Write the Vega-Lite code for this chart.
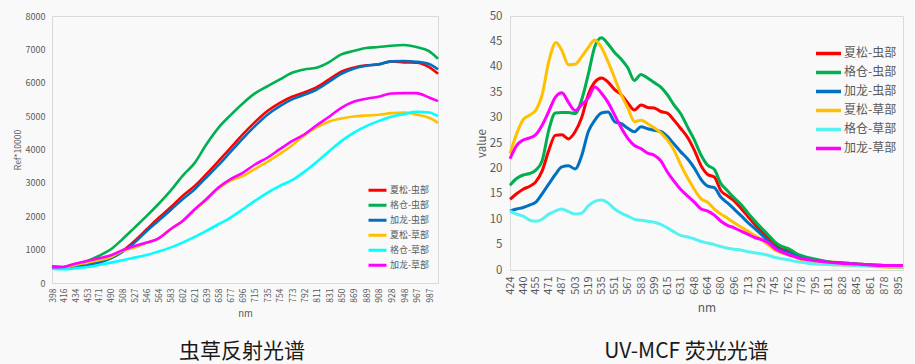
{
  "$schema": "https://vega.github.io/schema/vega-lite/v6.json",
  "background": "#f9f9f9",
  "padding": {"left": 12, "top": 9, "right": 5, "bottom": 2},
  "config": {
    "font": "Noto Sans CJK SC",
    "view": {"stroke": "#d9d9d9", "strokeWidth": 1},
    "axis": {"grid": false, "domain": false, "ticks": false, "labelColor": "#595959", "titleColor": "#595959", "titleFontWeight": "normal"},
    "legend": {"labelColor": "#595959"},
    "title": {"fontWeight": "normal", "color": "#1a1a1a"},
    "concat": {"spacing": 31}
  },
  "datasets": {
    "refl": [
      {"series":"夏松-虫部","nm":398,"value":490},{"series":"夏松-虫部","nm":416,"value":470},{"series":"夏松-虫部","nm":434,"value":510},{"series":"夏松-虫部","nm":453,"value":560},{"series":"夏松-虫部","nm":471,"value":640},{"series":"夏松-虫部","nm":490,"value":780},{"series":"夏松-虫部","nm":508,"value":960},{"series":"夏松-虫部","nm":527,"value":1260},{"series":"夏松-虫部","nm":546,"value":1610},{"series":"夏松-虫部","nm":564,"value":1940},{"series":"夏松-虫部","nm":583,"value":2260},{"series":"夏松-虫部","nm":602,"value":2610},{"series":"夏松-虫部","nm":621,"value":2910},{"series":"夏松-虫部","nm":639,"value":3260},{"series":"夏松-虫部","nm":658,"value":3650},{"series":"夏松-虫部","nm":677,"value":4050},{"series":"夏松-虫部","nm":696,"value":4450},{"series":"夏松-虫部","nm":715,"value":4820},{"series":"夏松-虫部","nm":735,"value":5160},{"series":"夏松-虫部","nm":754,"value":5400},{"series":"夏松-虫部","nm":773,"value":5580},{"series":"夏松-虫部","nm":792,"value":5710},{"series":"夏松-虫部","nm":811,"value":5860},{"series":"夏松-虫部","nm":831,"value":6100},{"series":"夏松-虫部","nm":850,"value":6330},{"series":"夏松-虫部","nm":869,"value":6450},{"series":"夏松-虫部","nm":889,"value":6520},{"series":"夏松-虫部","nm":908,"value":6550},{"series":"夏松-虫部","nm":928,"value":6640},{"series":"夏松-虫部","nm":948,"value":6610},{"series":"夏松-虫部","nm":967,"value":6600},{"series":"夏松-虫部","nm":987,"value":6470},{"series":"夏松-虫部","nm":1001,"value":6270},
      {"series":"格仓-虫部","nm":398,"value":500},{"series":"格仓-虫部","nm":416,"value":480},{"series":"格仓-虫部","nm":434,"value":560},{"series":"格仓-虫部","nm":453,"value":660},{"series":"格仓-虫部","nm":471,"value":810},{"series":"格仓-虫部","nm":490,"value":1010},{"series":"格仓-虫部","nm":508,"value":1310},{"series":"格仓-虫部","nm":527,"value":1660},{"series":"格仓-虫部","nm":546,"value":2010},{"series":"格仓-虫部","nm":564,"value":2360},{"series":"格仓-虫部","nm":583,"value":2760},{"series":"格仓-虫部","nm":602,"value":3210},{"series":"格仓-虫部","nm":621,"value":3600},{"series":"格仓-虫部","nm":639,"value":4150},{"series":"格仓-虫部","nm":658,"value":4650},{"series":"格仓-虫部","nm":677,"value":5030},{"series":"格仓-虫部","nm":696,"value":5380},{"series":"格仓-虫部","nm":715,"value":5680},{"series":"格仓-虫部","nm":735,"value":5900},{"series":"格仓-虫部","nm":754,"value":6100},{"series":"格仓-虫部","nm":773,"value":6300},{"series":"格仓-虫部","nm":792,"value":6400},{"series":"格仓-虫部","nm":811,"value":6450},{"series":"格仓-虫部","nm":831,"value":6620},{"series":"格仓-虫部","nm":850,"value":6850},{"series":"格仓-虫部","nm":869,"value":6950},{"series":"格仓-虫部","nm":889,"value":7040},{"series":"格仓-虫部","nm":908,"value":7070},{"series":"格仓-虫部","nm":928,"value":7110},{"series":"格仓-虫部","nm":948,"value":7130},{"series":"格仓-虫部","nm":967,"value":7070},{"series":"格仓-虫部","nm":987,"value":6950},{"series":"格仓-虫部","nm":1001,"value":6720},
      {"series":"加龙-虫部","nm":398,"value":480},{"series":"加龙-虫部","nm":416,"value":460},{"series":"加龙-虫部","nm":434,"value":490},{"series":"加龙-虫部","nm":453,"value":540},{"series":"加龙-虫部","nm":471,"value":610},{"series":"加龙-虫部","nm":490,"value":740},{"series":"加龙-虫部","nm":508,"value":930},{"series":"加龙-虫部","nm":527,"value":1210},{"series":"加龙-虫部","nm":546,"value":1560},{"series":"加龙-虫部","nm":564,"value":1860},{"series":"加龙-虫部","nm":583,"value":2180},{"series":"加龙-虫部","nm":602,"value":2510},{"series":"加龙-虫部","nm":621,"value":2810},{"series":"加龙-虫部","nm":639,"value":3160},{"series":"加龙-虫部","nm":658,"value":3530},{"series":"加龙-虫部","nm":677,"value":3930},{"series":"加龙-虫部","nm":696,"value":4330},{"series":"加龙-虫部","nm":715,"value":4700},{"series":"加龙-虫部","nm":735,"value":5050},{"series":"加龙-虫部","nm":754,"value":5300},{"series":"加龙-虫部","nm":773,"value":5500},{"series":"加龙-虫部","nm":792,"value":5640},{"series":"加龙-虫部","nm":811,"value":5790},{"series":"加龙-虫部","nm":831,"value":6030},{"series":"加龙-虫部","nm":850,"value":6270},{"series":"加龙-虫部","nm":869,"value":6420},{"series":"加龙-虫部","nm":889,"value":6510},{"series":"加龙-虫部","nm":908,"value":6550},{"series":"加龙-虫部","nm":928,"value":6640},{"series":"加龙-虫部","nm":948,"value":6650},{"series":"加龙-虫部","nm":967,"value":6630},{"series":"加龙-虫部","nm":987,"value":6560},{"series":"加龙-虫部","nm":1001,"value":6400},
      {"series":"夏松-草部","nm":398,"value":460},{"series":"夏松-草部","nm":416,"value":460},{"series":"夏松-草部","nm":434,"value":540},{"series":"夏松-草部","nm":453,"value":610},{"series":"夏松-草部","nm":471,"value":680},{"series":"夏松-草部","nm":490,"value":780},{"series":"夏松-草部","nm":508,"value":960},{"series":"夏松-草部","nm":527,"value":1060},{"series":"夏松-草部","nm":546,"value":1210},{"series":"夏松-草部","nm":564,"value":1330},{"series":"夏松-草部","nm":583,"value":1600},{"series":"夏松-草部","nm":602,"value":1850},{"series":"夏松-草部","nm":621,"value":2190},{"series":"夏松-草部","nm":639,"value":2490},{"series":"夏松-草部","nm":658,"value":2830},{"series":"夏松-草部","nm":677,"value":3070},{"series":"夏松-草部","nm":696,"value":3200},{"series":"夏松-草部","nm":715,"value":3420},{"series":"夏松-草部","nm":735,"value":3640},{"series":"夏松-草部","nm":754,"value":3870},{"series":"夏松-草部","nm":773,"value":4120},{"series":"夏松-草部","nm":792,"value":4420},{"series":"夏松-草部","nm":811,"value":4660},{"series":"夏松-草部","nm":831,"value":4840},{"series":"夏松-草部","nm":850,"value":4930},{"series":"夏松-草部","nm":869,"value":4990},{"series":"夏松-草部","nm":889,"value":5020},{"series":"夏松-草部","nm":908,"value":5040},{"series":"夏松-草部","nm":928,"value":5090},{"series":"夏松-草部","nm":948,"value":5110},{"series":"夏松-草部","nm":967,"value":5050},{"series":"夏松-草部","nm":987,"value":4950},{"series":"夏松-草部","nm":1001,"value":4800},
      {"series":"格仓-草部","nm":398,"value":430},{"series":"格仓-草部","nm":416,"value":410},{"series":"格仓-草部","nm":434,"value":440},{"series":"格仓-草部","nm":453,"value":480},{"series":"格仓-草部","nm":471,"value":540},{"series":"格仓-草部","nm":490,"value":610},{"series":"格仓-草部","nm":508,"value":680},{"series":"格仓-草部","nm":527,"value":760},{"series":"格仓-草部","nm":546,"value":840},{"series":"格仓-草部","nm":564,"value":940},{"series":"格仓-草部","nm":583,"value":1060},{"series":"格仓-草部","nm":602,"value":1210},{"series":"格仓-草部","nm":621,"value":1380},{"series":"格仓-草部","nm":639,"value":1560},{"series":"格仓-草部","nm":658,"value":1760},{"series":"格仓-草部","nm":677,"value":1960},{"series":"格仓-草部","nm":696,"value":2210},{"series":"格仓-草部","nm":715,"value":2460},{"series":"格仓-草部","nm":735,"value":2710},{"series":"格仓-草部","nm":754,"value":2910},{"series":"格仓-草部","nm":773,"value":3080},{"series":"格仓-草部","nm":792,"value":3330},{"series":"格仓-草部","nm":811,"value":3620},{"series":"格仓-草部","nm":831,"value":3950},{"series":"格仓-草部","nm":850,"value":4250},{"series":"格仓-草部","nm":869,"value":4500},{"series":"格仓-草部","nm":889,"value":4700},{"series":"格仓-草部","nm":908,"value":4850},{"series":"格仓-草部","nm":928,"value":4980},{"series":"格仓-草部","nm":948,"value":5060},{"series":"格仓-草部","nm":967,"value":5130},{"series":"格仓-草部","nm":987,"value":5110},{"series":"格仓-草部","nm":1001,"value":5000},
      {"series":"加龙-草部","nm":398,"value":470},{"series":"加龙-草部","nm":416,"value":480},{"series":"加龙-草部","nm":434,"value":580},{"series":"加龙-草部","nm":453,"value":660},{"series":"加龙-草部","nm":471,"value":740},{"series":"加龙-草部","nm":490,"value":830},{"series":"加龙-草部","nm":508,"value":980},{"series":"加龙-草部","nm":527,"value":1110},{"series":"加龙-草部","nm":546,"value":1210},{"series":"加龙-草部","nm":564,"value":1330},{"series":"加龙-草部","nm":583,"value":1610},{"series":"加龙-草部","nm":602,"value":1860},{"series":"加龙-草部","nm":621,"value":2210},{"series":"加龙-草部","nm":639,"value":2510},{"series":"加龙-草部","nm":658,"value":2860},{"series":"加龙-草部","nm":677,"value":3110},{"series":"加龙-草部","nm":696,"value":3300},{"series":"加龙-草部","nm":715,"value":3550},{"series":"加龙-草部","nm":735,"value":3760},{"series":"加龙-草部","nm":754,"value":4010},{"series":"加龙-草部","nm":773,"value":4250},{"series":"加龙-草部","nm":792,"value":4450},{"series":"加龙-草部","nm":811,"value":4720},{"series":"加龙-草部","nm":831,"value":4980},{"series":"加龙-草部","nm":850,"value":5250},{"series":"加龙-草部","nm":869,"value":5430},{"series":"加龙-草部","nm":889,"value":5520},{"series":"加龙-草部","nm":908,"value":5580},{"series":"加龙-草部","nm":928,"value":5680},{"series":"加龙-草部","nm":948,"value":5690},{"series":"加龙-草部","nm":967,"value":5690},{"series":"加龙-草部","nm":987,"value":5560},{"series":"加龙-草部","nm":1001,"value":5450}
    ],
    "fluo": [
      {"series":"夏松-虫部","nm":424,"value":13.9},{"series":"夏松-虫部","nm":432,"value":15.0},{"series":"夏松-虫部","nm":440,"value":15.9},{"series":"夏松-虫部","nm":448,"value":16.5},{"series":"夏松-虫部","nm":455,"value":17.3},{"series":"夏松-虫部","nm":463,"value":19.5},{"series":"夏松-虫部","nm":471,"value":23.5},{"series":"夏松-虫部","nm":479,"value":26.5},{"series":"夏松-虫部","nm":487,"value":26.6},{"series":"夏松-虫部","nm":495,"value":25.8},{"series":"夏松-虫部","nm":503,"value":27.2},{"series":"夏松-虫部","nm":511,"value":30.0},{"series":"夏松-虫部","nm":519,"value":34.5},{"series":"夏松-虫部","nm":527,"value":37.0},{"series":"夏松-虫部","nm":535,"value":37.8},{"series":"夏松-虫部","nm":543,"value":37.0},{"series":"夏松-虫部","nm":551,"value":35.5},{"series":"夏松-虫部","nm":559,"value":34.5},{"series":"夏松-虫部","nm":567,"value":32.9},{"series":"夏松-虫部","nm":575,"value":31.5},{"series":"夏松-虫部","nm":583,"value":32.5},{"series":"夏松-虫部","nm":591,"value":32.0},{"series":"夏松-虫部","nm":599,"value":31.9},{"series":"夏松-虫部","nm":607,"value":31.2},{"series":"夏松-虫部","nm":615,"value":30.9},{"series":"夏松-虫部","nm":623,"value":29.5},{"series":"夏松-虫部","nm":631,"value":27.9},{"series":"夏松-虫部","nm":640,"value":26.0},{"series":"夏松-虫部","nm":648,"value":23.5},{"series":"夏松-虫部","nm":656,"value":20.5},{"series":"夏松-虫部","nm":664,"value":18.8},{"series":"夏松-虫部","nm":672,"value":18.3},{"series":"夏松-虫部","nm":680,"value":15.6},{"series":"夏松-虫部","nm":688,"value":14.6},{"series":"夏松-虫部","nm":696,"value":13.6},{"series":"夏松-虫部","nm":705,"value":12.0},{"series":"夏松-虫部","nm":713,"value":10.5},{"series":"夏松-虫部","nm":721,"value":9.0},{"series":"夏松-虫部","nm":729,"value":7.6},{"series":"夏松-虫部","nm":737,"value":6.4},{"series":"夏松-虫部","nm":745,"value":5.2},{"series":"夏松-虫部","nm":753,"value":4.3},{"series":"夏松-虫部","nm":762,"value":3.7},{"series":"夏松-虫部","nm":770,"value":3.0},{"series":"夏松-虫部","nm":778,"value":2.4},{"series":"夏松-虫部","nm":787,"value":2.1},{"series":"夏松-虫部","nm":795,"value":1.9},{"series":"夏松-虫部","nm":811,"value":1.6},{"series":"夏松-虫部","nm":828,"value":1.4},{"series":"夏松-虫部","nm":845,"value":1.2},{"series":"夏松-虫部","nm":861,"value":1.0},{"series":"夏松-虫部","nm":878,"value":0.9},{"series":"夏松-虫部","nm":895,"value":0.8},{"series":"夏松-虫部","nm":901,"value":0.8},
      {"series":"格仓-虫部","nm":424,"value":16.7},{"series":"格仓-虫部","nm":432,"value":18.0},{"series":"格仓-虫部","nm":440,"value":18.7},{"series":"格仓-虫部","nm":448,"value":19.0},{"series":"格仓-虫部","nm":455,"value":19.6},{"series":"格仓-虫部","nm":463,"value":21.5},{"series":"格仓-虫部","nm":471,"value":27.5},{"series":"格仓-虫部","nm":479,"value":30.9},{"series":"格仓-虫部","nm":487,"value":31.0},{"series":"格仓-虫部","nm":495,"value":31.0},{"series":"格仓-虫部","nm":503,"value":30.8},{"series":"格仓-虫部","nm":511,"value":33.5},{"series":"格仓-虫部","nm":519,"value":38.5},{"series":"格仓-虫部","nm":527,"value":44.0},{"series":"格仓-虫部","nm":535,"value":45.7},{"series":"格仓-虫部","nm":543,"value":44.5},{"series":"格仓-虫部","nm":551,"value":42.8},{"series":"格仓-虫部","nm":559,"value":41.5},{"series":"格仓-虫部","nm":567,"value":39.8},{"series":"格仓-虫部","nm":575,"value":37.3},{"series":"格仓-虫部","nm":583,"value":38.5},{"series":"格仓-虫部","nm":591,"value":37.8},{"series":"格仓-虫部","nm":599,"value":36.9},{"series":"格仓-虫部","nm":607,"value":36.0},{"series":"格仓-虫部","nm":615,"value":34.5},{"series":"格仓-虫部","nm":623,"value":32.5},{"series":"格仓-虫部","nm":631,"value":30.8},{"series":"格仓-虫部","nm":640,"value":28.0},{"series":"格仓-虫部","nm":648,"value":25.5},{"series":"格仓-虫部","nm":656,"value":22.6},{"series":"格仓-虫部","nm":664,"value":20.6},{"series":"格仓-虫部","nm":672,"value":19.8},{"series":"格仓-虫部","nm":680,"value":17.0},{"series":"格仓-虫部","nm":688,"value":15.6},{"series":"格仓-虫部","nm":696,"value":14.2},{"series":"格仓-虫部","nm":705,"value":12.8},{"series":"格仓-虫部","nm":713,"value":11.2},{"series":"格仓-虫部","nm":721,"value":9.7},{"series":"格仓-虫部","nm":729,"value":8.3},{"series":"格仓-虫部","nm":737,"value":7.0},{"series":"格仓-虫部","nm":745,"value":5.6},{"series":"格仓-虫部","nm":753,"value":4.7},{"series":"格仓-虫部","nm":762,"value":4.2},{"series":"格仓-虫部","nm":770,"value":3.4},{"series":"格仓-虫部","nm":778,"value":2.8},{"series":"格仓-虫部","nm":787,"value":2.4},{"series":"格仓-虫部","nm":795,"value":2.1},{"series":"格仓-虫部","nm":811,"value":1.6},{"series":"格仓-虫部","nm":828,"value":1.4},{"series":"格仓-虫部","nm":845,"value":1.2},{"series":"格仓-虫部","nm":861,"value":1.0},{"series":"格仓-虫部","nm":878,"value":0.9},{"series":"格仓-虫部","nm":895,"value":0.8},{"series":"格仓-虫部","nm":901,"value":0.8},
      {"series":"加龙-虫部","nm":424,"value":11.6},{"series":"加龙-虫部","nm":432,"value":12.0},{"series":"加龙-虫部","nm":440,"value":12.3},{"series":"加龙-虫部","nm":448,"value":12.8},{"series":"加龙-虫部","nm":455,"value":13.3},{"series":"加龙-虫部","nm":463,"value":15.0},{"series":"加龙-虫部","nm":471,"value":16.9},{"series":"加龙-虫部","nm":479,"value":18.8},{"series":"加龙-虫部","nm":487,"value":20.3},{"series":"加龙-虫部","nm":495,"value":20.5},{"series":"加龙-虫部","nm":503,"value":19.9},{"series":"加龙-虫部","nm":511,"value":22.5},{"series":"加龙-虫部","nm":519,"value":27.2},{"series":"加龙-虫部","nm":527,"value":29.5},{"series":"加龙-虫部","nm":535,"value":30.9},{"series":"加龙-虫部","nm":543,"value":31.1},{"series":"加龙-虫部","nm":551,"value":29.2},{"series":"加龙-虫部","nm":559,"value":28.8},{"series":"加龙-虫部","nm":567,"value":27.9},{"series":"加龙-虫部","nm":575,"value":27.2},{"series":"加龙-虫部","nm":583,"value":28.2},{"series":"加龙-虫部","nm":591,"value":27.8},{"series":"加龙-虫部","nm":599,"value":27.5},{"series":"加龙-虫部","nm":607,"value":27.3},{"series":"加龙-虫部","nm":615,"value":26.3},{"series":"加龙-虫部","nm":623,"value":24.8},{"series":"加龙-虫部","nm":631,"value":23.3},{"series":"加龙-虫部","nm":640,"value":21.8},{"series":"加龙-虫部","nm":648,"value":20.0},{"series":"加龙-虫部","nm":656,"value":17.8},{"series":"加龙-虫部","nm":664,"value":16.5},{"series":"加龙-虫部","nm":672,"value":16.2},{"series":"加龙-虫部","nm":680,"value":14.3},{"series":"加龙-虫部","nm":688,"value":13.2},{"series":"加龙-虫部","nm":696,"value":12.0},{"series":"加龙-虫部","nm":705,"value":10.6},{"series":"加龙-虫部","nm":713,"value":9.3},{"series":"加龙-虫部","nm":721,"value":8.2},{"series":"加龙-虫部","nm":729,"value":7.0},{"series":"加龙-虫部","nm":737,"value":5.8},{"series":"加龙-虫部","nm":745,"value":4.6},{"series":"加龙-虫部","nm":753,"value":3.9},{"series":"加龙-虫部","nm":762,"value":3.4},{"series":"加龙-虫部","nm":770,"value":2.8},{"series":"加龙-虫部","nm":778,"value":2.3},{"series":"加龙-虫部","nm":787,"value":2.0},{"series":"加龙-虫部","nm":795,"value":1.8},{"series":"加龙-虫部","nm":811,"value":1.5},{"series":"加龙-虫部","nm":828,"value":1.3},{"series":"加龙-虫部","nm":845,"value":1.1},{"series":"加龙-虫部","nm":861,"value":1.0},{"series":"加龙-虫部","nm":878,"value":0.9},{"series":"加龙-虫部","nm":895,"value":0.8},{"series":"加龙-虫部","nm":901,"value":0.8},
      {"series":"夏松-草部","nm":424,"value":22.9},{"series":"夏松-草部","nm":432,"value":26.8},{"series":"夏松-草部","nm":440,"value":29.6},{"series":"夏松-草部","nm":448,"value":30.5},{"series":"夏松-草部","nm":455,"value":31.4},{"series":"夏松-草部","nm":463,"value":34.5},{"series":"夏松-草部","nm":471,"value":41.0},{"series":"夏松-草部","nm":480,"value":44.8},{"series":"夏松-草部","nm":487,"value":43.2},{"series":"夏松-草部","nm":495,"value":40.4},{"series":"夏松-草部","nm":503,"value":40.5},{"series":"夏松-草部","nm":511,"value":42.0},{"series":"夏松-草部","nm":519,"value":43.8},{"series":"夏松-草部","nm":527,"value":45.3},{"series":"夏松-草部","nm":535,"value":43.8},{"series":"夏松-草部","nm":543,"value":41.0},{"series":"夏松-草部","nm":551,"value":37.8},{"series":"夏松-草部","nm":559,"value":34.5},{"series":"夏松-草部","nm":567,"value":31.9},{"series":"夏松-草部","nm":575,"value":29.2},{"series":"夏松-草部","nm":583,"value":29.5},{"series":"夏松-草部","nm":591,"value":28.8},{"series":"夏松-草部","nm":599,"value":28.0},{"series":"夏松-草部","nm":607,"value":27.0},{"series":"夏松-草部","nm":615,"value":25.6},{"series":"夏松-草部","nm":623,"value":23.6},{"series":"夏松-草部","nm":631,"value":20.8},{"series":"夏松-草部","nm":640,"value":18.0},{"series":"夏松-草部","nm":648,"value":15.8},{"series":"夏松-草部","nm":656,"value":14.0},{"series":"夏松-草部","nm":664,"value":13.3},{"series":"夏松-草部","nm":672,"value":12.0},{"series":"夏松-草部","nm":680,"value":11.0},{"series":"夏松-草部","nm":688,"value":10.2},{"series":"夏松-草部","nm":696,"value":9.3},{"series":"夏松-草部","nm":705,"value":8.4},{"series":"夏松-草部","nm":713,"value":7.6},{"series":"夏松-草部","nm":721,"value":6.8},{"series":"夏松-草部","nm":729,"value":6.0},{"series":"夏松-草部","nm":737,"value":5.0},{"series":"夏松-草部","nm":745,"value":4.0},{"series":"夏松-草部","nm":753,"value":3.4},{"series":"夏松-草部","nm":762,"value":3.0},{"series":"夏松-草部","nm":770,"value":2.5},{"series":"夏松-草部","nm":778,"value":2.0},{"series":"夏松-草部","nm":787,"value":1.6},{"series":"夏松-草部","nm":795,"value":1.3},{"series":"夏松-草部","nm":811,"value":1.1},{"series":"夏松-草部","nm":828,"value":1.0},{"series":"夏松-草部","nm":845,"value":0.9},{"series":"夏松-草部","nm":861,"value":0.8},{"series":"夏松-草部","nm":878,"value":0.6},{"series":"夏松-草部","nm":895,"value":0.5},{"series":"夏松-草部","nm":901,"value":0.5},
      {"series":"格仓-草部","nm":424,"value":11.6},{"series":"格仓-草部","nm":432,"value":11.0},{"series":"格仓-草部","nm":440,"value":10.6},{"series":"格仓-草部","nm":448,"value":9.8},{"series":"格仓-草部","nm":455,"value":9.6},{"series":"格仓-草部","nm":463,"value":10.0},{"series":"格仓-草部","nm":471,"value":11.0},{"series":"格仓-草部","nm":479,"value":11.6},{"series":"格仓-草部","nm":487,"value":12.0},{"series":"格仓-草部","nm":495,"value":11.5},{"series":"格仓-草部","nm":503,"value":11.0},{"series":"格仓-草部","nm":511,"value":11.2},{"series":"格仓-草部","nm":519,"value":12.6},{"series":"格仓-草部","nm":527,"value":13.5},{"series":"格仓-草部","nm":535,"value":13.8},{"series":"格仓-草部","nm":543,"value":13.2},{"series":"格仓-草部","nm":551,"value":12.0},{"series":"格仓-草部","nm":559,"value":11.2},{"series":"格仓-草部","nm":567,"value":10.6},{"series":"格仓-草部","nm":575,"value":10.0},{"series":"格仓-草部","nm":583,"value":9.8},{"series":"格仓-草部","nm":591,"value":9.6},{"series":"格仓-草部","nm":599,"value":9.4},{"series":"格仓-草部","nm":607,"value":9.0},{"series":"格仓-草部","nm":615,"value":8.3},{"series":"格仓-草部","nm":623,"value":7.5},{"series":"格仓-草部","nm":631,"value":6.8},{"series":"格仓-草部","nm":640,"value":6.5},{"series":"格仓-草部","nm":648,"value":6.1},{"series":"格仓-草部","nm":656,"value":5.6},{"series":"格仓-草部","nm":664,"value":5.3},{"series":"格仓-草部","nm":672,"value":5.0},{"series":"格仓-草部","nm":680,"value":4.6},{"series":"格仓-草部","nm":688,"value":4.3},{"series":"格仓-草部","nm":696,"value":4.1},{"series":"格仓-草部","nm":705,"value":3.9},{"series":"格仓-草部","nm":713,"value":3.6},{"series":"格仓-草部","nm":721,"value":3.4},{"series":"格仓-草部","nm":729,"value":3.2},{"series":"格仓-草部","nm":737,"value":2.9},{"series":"格仓-草部","nm":745,"value":2.5},{"series":"格仓-草部","nm":753,"value":2.2},{"series":"格仓-草部","nm":762,"value":2.0},{"series":"格仓-草部","nm":770,"value":1.7},{"series":"格仓-草部","nm":778,"value":1.5},{"series":"格仓-草部","nm":787,"value":1.3},{"series":"格仓-草部","nm":795,"value":1.2},{"series":"格仓-草部","nm":811,"value":1.1},{"series":"格仓-草部","nm":828,"value":1.0},{"series":"格仓-草部","nm":845,"value":0.9},{"series":"格仓-草部","nm":861,"value":0.8},{"series":"格仓-草部","nm":878,"value":0.7},{"series":"格仓-草部","nm":895,"value":0.6},{"series":"格仓-草部","nm":901,"value":0.6},
      {"series":"加龙-草部","nm":424,"value":21.9},{"series":"加龙-草部","nm":432,"value":24.5},{"series":"加龙-草部","nm":440,"value":25.6},{"series":"加龙-草部","nm":448,"value":26.0},{"series":"加龙-草部","nm":455,"value":26.6},{"series":"加龙-草部","nm":463,"value":28.5},{"series":"加龙-草部","nm":471,"value":31.2},{"series":"加龙-草部","nm":479,"value":34.0},{"series":"加龙-草部","nm":487,"value":34.9},{"series":"加龙-草部","nm":495,"value":33.0},{"series":"加龙-草部","nm":503,"value":31.4},{"series":"加龙-草部","nm":511,"value":32.5},{"series":"加龙-草部","nm":519,"value":33.9},{"series":"加龙-草部","nm":527,"value":36.0},{"series":"加龙-草部","nm":535,"value":34.8},{"series":"加龙-草部","nm":543,"value":33.0},{"series":"加龙-草部","nm":551,"value":30.5},{"series":"加龙-草部","nm":559,"value":28.0},{"series":"加龙-草部","nm":567,"value":25.9},{"series":"加龙-草部","nm":575,"value":24.5},{"series":"加龙-草部","nm":583,"value":23.9},{"series":"加龙-草部","nm":591,"value":23.0},{"series":"加龙-草部","nm":599,"value":22.6},{"series":"加龙-草部","nm":607,"value":21.5},{"series":"加龙-草部","nm":615,"value":19.3},{"series":"加龙-草部","nm":623,"value":17.5},{"series":"加龙-草部","nm":631,"value":15.9},{"series":"加龙-草部","nm":640,"value":14.5},{"series":"加龙-草部","nm":648,"value":13.3},{"series":"加龙-草部","nm":656,"value":12.0},{"series":"加龙-草部","nm":664,"value":11.6},{"series":"加龙-草部","nm":672,"value":10.8},{"series":"加龙-草部","nm":680,"value":9.6},{"series":"加龙-草部","nm":688,"value":8.8},{"series":"加龙-草部","nm":696,"value":8.3},{"series":"加龙-草部","nm":705,"value":7.6},{"series":"加龙-草部","nm":713,"value":7.0},{"series":"加龙-草部","nm":721,"value":6.4},{"series":"加龙-草部","nm":729,"value":6.0},{"series":"加龙-草部","nm":737,"value":5.4},{"series":"加龙-草部","nm":745,"value":4.3},{"series":"加龙-草部","nm":753,"value":3.6},{"series":"加龙-草部","nm":762,"value":3.0},{"series":"加龙-草部","nm":770,"value":2.6},{"series":"加龙-草部","nm":778,"value":2.2},{"series":"加龙-草部","nm":787,"value":2.0},{"series":"加龙-草部","nm":795,"value":1.8},{"series":"加龙-草部","nm":811,"value":1.5},{"series":"加龙-草部","nm":828,"value":1.3},{"series":"加龙-草部","nm":845,"value":1.2},{"series":"加龙-草部","nm":861,"value":1.0},{"series":"加龙-草部","nm":878,"value":0.9},{"series":"加龙-草部","nm":895,"value":0.9},{"series":"加龙-草部","nm":901,"value":0.9}
    ]
  },
  "hconcat": [
    {
      "width": 386,
      "height": 267,
      "data": {"name": "refl"},
      "title": {"text": "虫草反射光谱", "orient": "bottom", "fontSize": 21, "offset": 23, "frame": "group", "dx": -3},
      "mark": {"type": "line", "strokeWidth": 2.6, "interpolate": "monotone"},
      "encoding": {
        "x": {
          "field": "nm", "type": "quantitative",
          "scale": {"domain": [398, 1001], "nice": false, "zero": false},
          "axis": {"values": [398,416,434,453,471,490,508,527,546,564,583,602,621,639,658,677,696,715,735,754,773,792,811,831,850,869,889,908,928,948,967,987], "format": "d", "labelAngle": -90, "labelFontSize": 8.5, "labelPadding": 5, "labelOverlap": false, "labelFlush": false, "title": "nm", "titleFontSize": 9.5, "titlePadding": 6}
        },
        "y": {
          "field": "value", "type": "quantitative",
          "scale": {"domain": [0, 8000], "nice": false},
          "axis": {"values": [0,1000,2000,3000,4000,5000,6000,7000,8000], "format": "d", "labelFontSize": 9, "labelPadding": 7, "title": "Ref*10000", "titleFontSize": 8.5, "titlePadding": 3}
        },
        "color": {
          "field": "series", "type": "nominal",
          "scale": {"domain": ["夏松-虫部","格仓-虫部","加龙-虫部","夏松-草部","格仓-草部","加龙-草部"], "range": ["#ff0000","#00b050","#0070c0","#ffc000","#00ffff","#ff00ff"]},
          "legend": {"title": null, "orient": "none", "legendX": 315, "legendY": 167, "symbolType": "stroke", "symbolStrokeWidth": 3, "symbolSize": 324, "labelFontSize": 9, "labelOffset": 2, "clipHeight": 14.4, "rowPadding": 0}
        }
      }
    },
    {
      "width": 393,
      "height": 254,
      "data": {"name": "fluo"},
      "title": {"text": "UV-MCF 荧光光谱", "orient": "bottom", "fontSize": 21, "offset": 28, "frame": "group", "dx": -20},
      "mark": {"type": "line", "strokeWidth": 3, "interpolate": "monotone"},
      "encoding": {
        "x": {
          "field": "nm", "type": "quantitative",
          "scale": {"domain": [424, 901], "nice": false, "zero": false},
          "axis": {"values": [424,440,455,471,487,503,519,535,551,567,583,599,615,631,648,664,680,696,713,729,745,762,778,795,811,828,845,861,878,895], "format": "d", "labelAngle": -90, "labelFontSize": 11, "labelPadding": 6, "labelOverlap": false, "labelFlush": false, "title": "nm", "titleFontSize": 12, "titlePadding": 8}
        },
        "y": {
          "field": "value", "type": "quantitative",
          "scale": {"domain": [0, 50], "nice": false},
          "axis": {"values": [0,5,10,15,20,25,30,35,40,45,50], "labelFontSize": 11.5, "labelPadding": 8, "title": "value", "titleFontSize": 11.5, "titlePadding": 2}
        },
        "color": {
          "field": "series", "type": "nominal",
          "scale": {"domain": ["夏松-虫部","格仓-虫部","加龙-虫部","夏松-草部","格仓-草部","加龙-草部"], "range": ["#ff0000","#00b050","#0070c0","#ffc000","#55f2f2","#ff00ff"]},
          "legend": {"title": null, "orient": "none", "legendX": 304, "legendY": 28, "symbolType": "stroke", "symbolStrokeWidth": 3.5, "symbolSize": 625, "labelFontSize": 12, "labelOffset": 1, "clipHeight": 18.8, "rowPadding": 0}
        }
      }
    }
  ],
  "resolve": {"scale": {"color": "independent"}, "legend": {"color": "independent"}}
}
